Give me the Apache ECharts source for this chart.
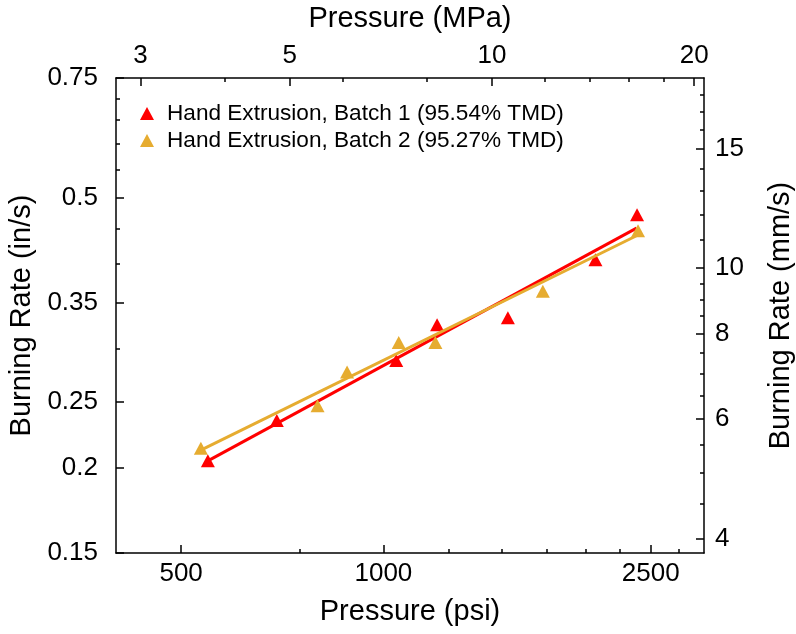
<!DOCTYPE html>
<html><head><meta charset="utf-8">
<script src="https://cdn.jsdelivr.net/npm/echarts@6/dist/echarts.min.js"></script>
<style>html,body{margin:0;padding:0;background:#fff}#c{width:796px;height:634px}</style>
</head><body><div id="c"></div>
<script>
// ---- data ----
const batch1Name = 'Hand Extrusion, Batch 1 (95.54% TMD)';
const batch2Name = 'Hand Extrusion, Batch 2 (95.27% TMD)';
const batch1Psi  = [548, 694, 1045, 1202, 1532, 2068, 2385];
const batch1Rate = [0.205, 0.235, 0.288, 0.325, 0.333, 0.405, 0.472];
const batch2Psi  = [535, 798, 883, 1054, 1195, 1727, 2393];
const batch2Rate = [0.214, 0.247, 0.277, 0.306, 0.306, 0.364, 0.447];
const fit1Psi  = [548, 2381];
const fit1Rate = [0.205, 0.451];
const fit2Psi  = [535, 2393];
const fit2Rate = [0.2126, 0.4406];
// axis ranges and ticks
const psiRange  = [400, 3000];
const rateRange = [0.15, 0.75];
const psiMajor  = [500, 1000, 2500];
const psiMinor  = [750, 1250, 1500, 1750, 2000, 2250, 2750];
const mpaMajor  = [3, 5, 10, 20];
const mpaMinor  = [4, 6, 8, 12, 14, 16, 18];
const rateMajor = [0.15, 0.2, 0.25, 0.35, 0.5, 0.75];
const rateMinor = [0.3, 0.4, 0.45, 0.55, 0.6, 0.65, 0.7];
const mmMajor   = [4, 6, 8, 10, 15];
const mmMinor   = [4.5, 5, 5.5, 6.5, 7, 7.5, 8.5, 9, 9.5, 11, 12, 13, 14, 16, 17, 18];
const PSI_TO_MPA = 0.00689476;
const IN_TO_MM = 25.4;

const L = Math.log10;
const FONT = 'Liberation Sans, Arial, sans-serif';
const pts = (xs, ys) => xs.map((x, i) => [L(x), L(ys[i])]);
const fmt = v => String(parseFloat(Math.pow(10, v).toPrecision(3)));
const lineStyle = {color: '#000', width: 1.5};

function axis(base, range, major, minor, opts) {
  const common = {type: 'value', min: L(range[0]), max: L(range[1]), splitLine: {show: false}, scale: true};
  const majorAx = Object.assign({}, common, base, {
    axisLine: {show: true, onZero: false, lineStyle},
    axisTick: {show: true, inside: true, length: 8, lineStyle, customValues: major.map(L)},
    axisLabel: Object.assign({show: true, color: '#000', fontSize: 26, fontFamily: FONT, formatter: fmt, customValues: major.map(L)}, opts.label),
    name: opts.name, nameLocation: 'middle', nameGap: opts.nameGap,
    nameTextStyle: {color: '#000', fontSize: 29, fontFamily: FONT}
  });
  const minorAx = Object.assign({}, common, base, {
    axisLine: {show: false, onZero: false},
    axisTick: {show: true, inside: true, length: 4, lineStyle, customValues: minor.map(L)},
    axisLabel: {show: false}
  });
  return [majorAx, minorAx];
}

const xAxes = [
  ...axis({position: 'bottom'}, psiRange, psiMajor, psiMinor, {name: 'Pressure (psi)', nameGap: 44, label: {margin: 8}}),
  ...axis({position: 'top'}, psiRange.map(v => v * PSI_TO_MPA), mpaMajor, mpaMinor, {name: 'Pressure (MPa)', nameGap: 45, label: {margin: 9}})
];
const yAxes = [
  ...axis({position: 'left'}, rateRange, rateMajor, rateMinor, {name: 'Burning Rate (in/s)', nameGap: 75, label: {margin: 18}}),
  ...axis({position: 'right'}, rateRange.map(v => v * IN_TO_MM), mmMajor, mmMinor, {name: 'Burning Rate (mm/s)', nameGap: 62, label: {margin: 11}})
];

const RED = '#FF0000', GOLD = '#E6AC30';
const chart = echarts.init(document.getElementById('c'), null, {renderer: 'canvas'});
chart.setOption({
  animation: false,
  backgroundColor: '#fff',
  grid: {left: 116, right: 92, top: 78, bottom: 81, containLabel: false, outerBoundsMode: 'none'},
  xAxis: xAxes,
  yAxis: yAxes,
  legend: {
    orient: 'vertical', left: 140, top: 102, itemGap: 4, itemWidth: 14, itemHeight: 13,
    padding: 0, data: [{name: batch1Name, icon: 'triangle'}, {name: batch2Name, icon: 'triangle'}],
    textStyle: {color: '#000', fontSize: 22.6, fontFamily: FONT, padding: [0, 0, 0, 8]}
  },
  series: [
    {name: batch1Name, type: 'scatter', symbol: 'triangle', symbolSize: [14, 13], itemStyle: {color: RED, opacity: 1}, data: pts(batch1Psi, batch1Rate), z: 2},
    {name: 'fit1', type: 'line', showSymbol: false, symbol: 'none', lineStyle: {color: RED, width: 3}, data: pts(fit1Psi, fit1Rate), z: 3},
    {name: batch2Name, type: 'scatter', symbol: 'triangle', symbolSize: [14, 13], itemStyle: {color: GOLD, opacity: 1}, data: pts(batch2Psi, batch2Rate), z: 4},
    {name: 'fit2', type: 'line', showSymbol: false, symbol: 'none', lineStyle: {color: GOLD, width: 3}, data: pts(fit2Psi, fit2Rate), z: 5}
  ]
});
</script></body></html>
